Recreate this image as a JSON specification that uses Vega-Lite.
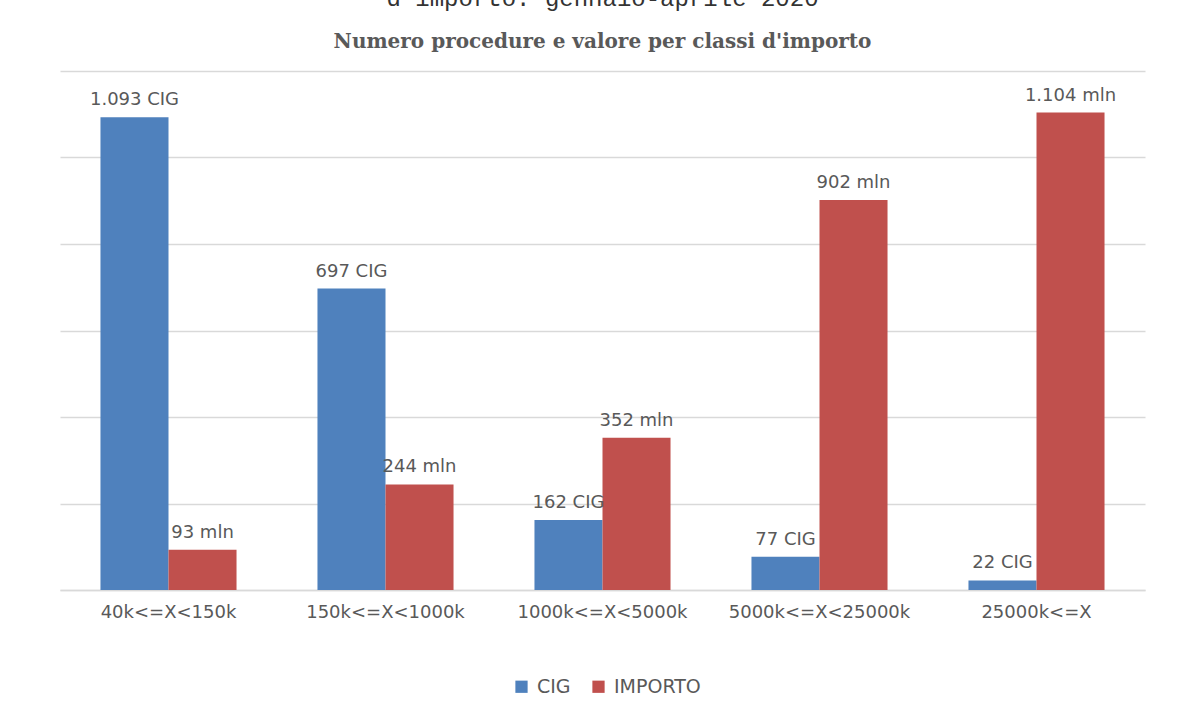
{
  "$schema": "https://vega.github.io/schema/vega-lite/v6.json",
  "autosize": {"type": "none"},
  "width": 1085,
  "height": 519,
  "padding": {"left": 60, "top": 71, "right": 43, "bottom": 118},
  "background": "white",
  "title": {
    "text": "d'importo: gennaio-aprile 2020",
    "subtitle": "Numero procedure e valore per classi d'importo",
    "anchor": "middle",
    "font": "Liberation Mono",
    "fontSize": 24,
    "fontWeight": "normal",
    "color": "#333333",
    "subtitleFont": "DejaVu Serif",
    "subtitleFontSize": 20,
    "subtitleFontWeight": "bold",
    "subtitleColor": "#595959",
    "subtitlePadding": 21,
    "offset": 19
  },
  "data": {
    "values": [
      {"classe": "40k<=X<150k", "serie": "CIG", "valore": 1093, "etichetta": "1.093 CIG"},
      {"classe": "40k<=X<150k", "serie": "IMPORTO", "valore": 93, "etichetta": "93 mln"},
      {"classe": "150k<=X<1000k", "serie": "CIG", "valore": 697, "etichetta": "697 CIG"},
      {"classe": "150k<=X<1000k", "serie": "IMPORTO", "valore": 244, "etichetta": "244 mln"},
      {"classe": "1000k<=X<5000k", "serie": "CIG", "valore": 162, "etichetta": "162 CIG"},
      {"classe": "1000k<=X<5000k", "serie": "IMPORTO", "valore": 352, "etichetta": "352 mln"},
      {"classe": "5000k<=X<25000k", "serie": "CIG", "valore": 77, "etichetta": "77 CIG"},
      {"classe": "5000k<=X<25000k", "serie": "IMPORTO", "valore": 902, "etichetta": "902 mln"},
      {"classe": "25000k<=X", "serie": "CIG", "valore": 22, "etichetta": "22 CIG"},
      {"classe": "25000k<=X", "serie": "IMPORTO", "valore": 1104, "etichetta": "1.104 mln"}
    ]
  },
  "encoding": {
    "x": {
      "field": "classe",
      "type": "nominal",
      "sort": null,
      "scale": {"paddingInner": 0.373, "paddingOuter": 0.1865},
      "axis": {
        "title": null,
        "labelAngle": 0,
        "ticks": false,
        "domainColor": "#d9d9d9",
        "domainWidth": 1.5,
        "labelPadding": 13,
        "labelFont": "DejaVu Sans",
        "labelFontSize": 18,
        "labelColor": "#595959",
        "labelLimit": 400
      }
    },
    "xOffset": {
      "field": "serie",
      "type": "nominal",
      "scale": {"paddingInner": 0, "paddingOuter": 0}
    },
    "y": {
      "field": "valore",
      "type": "quantitative",
      "scale": {"domain": [0, 1200], "nice": false},
      "axis": {
        "title": null,
        "labels": false,
        "ticks": false,
        "domain": false,
        "grid": true,
        "gridColor": "#d9d9d9",
        "gridWidth": 1.5,
        "values": [0, 200, 400, 600, 800, 1000, 1200]
      }
    }
  },
  "layer": [
    {
      "mark": {"type": "bar"},
      "encoding": {
        "color": {
          "field": "serie",
          "type": "nominal",
          "scale": {"domain": ["CIG", "IMPORTO"], "range": ["#4F81BD", "#C0504D"]},
          "legend": {
            "title": null,
            "orient": "none",
            "direction": "horizontal",
            "legendX": 452,
            "legendY": 606,
            "symbolType": "square",
            "symbolSize": 150,
            "symbolStrokeWidth": 0,
            "labelFont": "DejaVu Sans",
            "labelFontSize": 19,
            "labelColor": "#595959",
            "labelOffset": 6,
            "columnPadding": 18,
            "padding": 0
          }
        }
      }
    },
    {
      "mark": {
        "type": "text",
        "baseline": "alphabetic",
        "dy": -12,
        "font": "DejaVu Sans",
        "fontSize": 18,
        "color": "#595959"
      },
      "encoding": {
        "text": {"field": "etichetta", "type": "nominal"}
      }
    }
  ],
  "config": {
    "view": {"stroke": null}
  }
}
